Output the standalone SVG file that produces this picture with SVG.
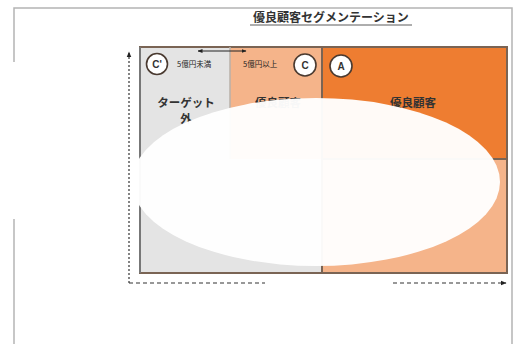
<svg xmlns="http://www.w3.org/2000/svg" width="515" height="344" viewBox="0 0 515 344">
<defs>
<style>
.frame{stroke:#b4b4b4;stroke-width:1.5;fill:none}
.cellb{stroke:#7a6454;stroke-width:2}
.circ{fill:#fff;stroke:#4a3a30;stroke-width:1.6}
.ctxt{font-family:"Liberation Sans",Arial,sans-serif;font-weight:bold;font-size:10px;fill:#333;text-anchor:middle}
.jp{font-family:"Noto Sans CJK JP","Noto Sans CJK SC",sans-serif;fill:#333}
.lbl{font-size:11.5px;font-weight:bold;text-anchor:middle}
.small{font-size:7.5px;fill:#222}
.axis{stroke:#333;stroke-width:1.2;fill:none}
</style>
<marker id="ah" viewBox="0 0 10 10" refX="9" refY="5" markerWidth="5" markerHeight="5" orient="auto-start-reverse">
<path d="M0,1 L10,5 L0,9 z" fill="#222"/>
</marker>
</defs>
<rect width="515" height="344" fill="#fff"/>
<g id="frame">
<path class="frame" d="M14,62 V8 H512 V344"/>
<path class="frame" d="M14,219 V344"/>
</g>
<g id="title">
<text class="jp" x="331" y="22" font-size="12" text-anchor="middle" font-weight="bold">優良顧客セグメンテーション</text>
<line x1="250" y1="25" x2="412" y2="25" stroke="#333" stroke-width="0.8"/>
</g>
<g id="cell-lower-left"><rect x="140" y="159" width="182" height="114" fill="#e4e4e4"/></g>
<g id="cell-lower-right"><rect x="322" y="159" width="185" height="114" fill="#f5b48a"/></g>
<g id="cell-target-out">
<rect x="140" y="47" width="90" height="112" fill="#e4e4e4"/>
<text class="jp lbl" x="186" y="107">ターゲット</text>
<text class="jp lbl" x="186" y="123">外</text>
</g>
<g id="cell-c">
<rect x="230" y="47" width="92" height="112" fill="#f5b48a"/>
<text class="jp lbl" x="278" y="107">優良顧客</text>
</g>
<g id="cell-a">
<rect x="322" y="47" width="185" height="112" fill="#ee7d31"/>
<text class="jp lbl" x="413" y="107" fill="#3a2010">優良顧客</text>
</g>
<g id="grid">
<rect x="140" y="47" width="367" height="226" fill="none" class="cellb"/>
<line x1="140" y1="47" x2="140" y2="273" stroke="#777" stroke-width="2"/>
<line x1="230" y1="47" x2="230" y2="159" stroke="#b8b0a8" stroke-width="1.5"/>
<line x1="322" y1="47" x2="322" y2="273" class="cellb"/>
<line x1="322" y1="159" x2="507" y2="159" class="cellb"/>
</g>
<g id="connectors">
<line class="axis" x1="129" y1="283" x2="129" y2="52" stroke-dasharray="2,2" marker-end="url(#ah)"/>
<line class="axis" x1="129" y1="283" x2="265" y2="283" stroke-dasharray="4,3"/>
<line class="axis" x1="393" y1="283" x2="506" y2="283" stroke-dasharray="4,3" marker-end="url(#ah)"/>
<line x1="198" y1="51" x2="246" y2="51" stroke="#222" stroke-width="1" marker-start="url(#ah)" marker-end="url(#ah)"/>
</g>
<g id="label-under"><text class="jp small" x="177" y="67">5億円未満</text></g>
<g id="label-over"><text class="jp small" x="243" y="67">5億円以上</text></g>
<g id="badge-c-prime"><circle class="circ" cx="157" cy="64" r="10.5"/><text class="ctxt" x="157" y="68">C'</text></g>
<g id="badge-c"><circle class="circ" cx="305" cy="65" r="11"/><text class="ctxt" x="305" y="69">C</text></g>
<g id="badge-a"><circle class="circ" cx="341" cy="66" r="11"/><text class="ctxt" x="341" y="70">A</text></g>
<g id="overlay"><ellipse cx="316" cy="182" rx="184" ry="84" fill="#fff" fill-opacity="0.96"/></g>
</svg>
